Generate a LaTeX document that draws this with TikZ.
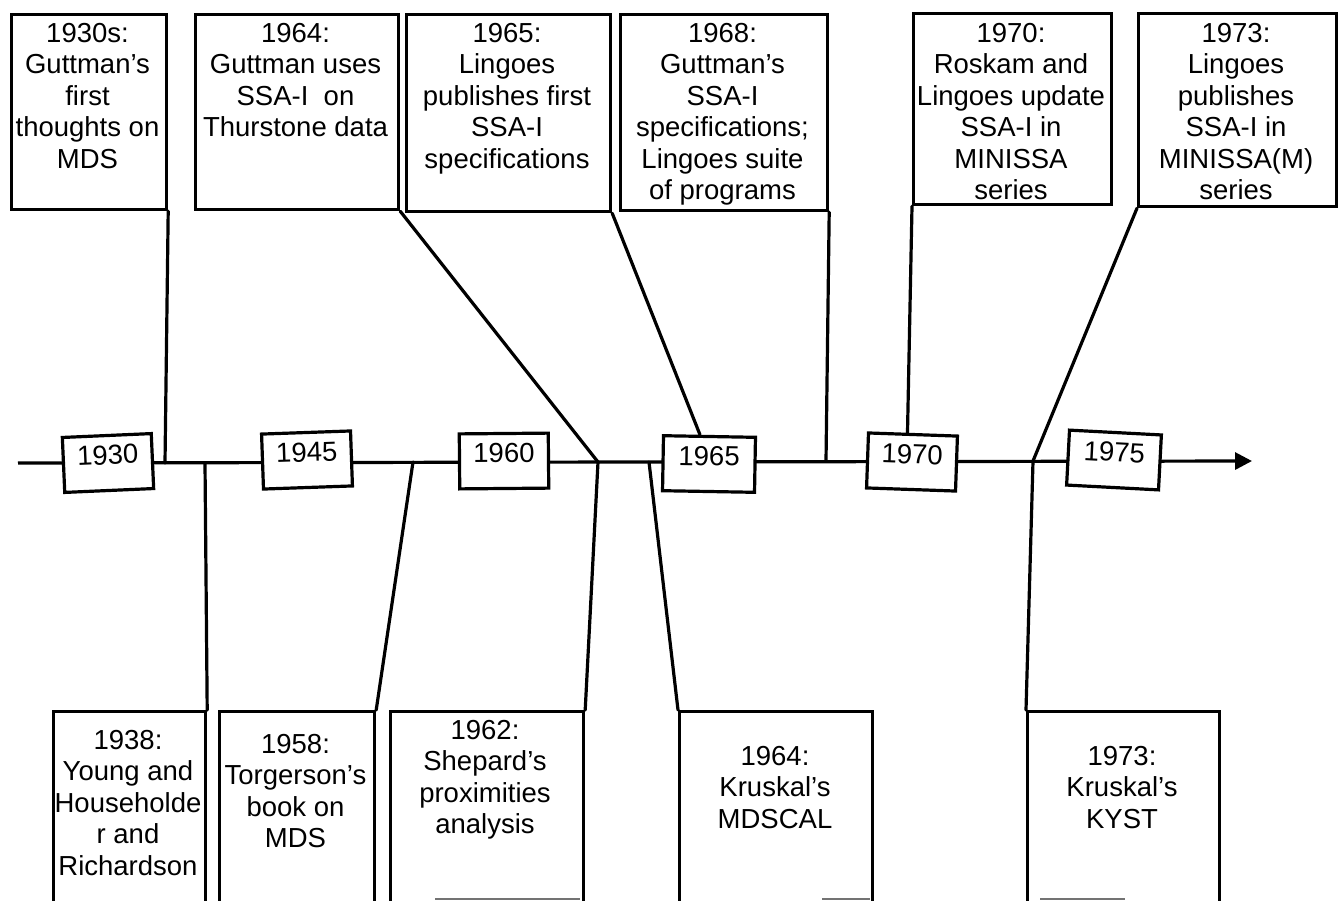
\documentclass[tikz,border=0pt]{standalone}
\usepackage{fontspec}
\setmainfont{Liberation Sans}
\usetikzlibrary{calc,arrows.meta}
\begin{document}
\begin{tikzpicture}[x=1pt,y=-1pt,
  every node/.style={font=\fontsize{27.5}{31.5}\selectfont},
  evbox/.style={draw, line width=3.2pt, inner sep=0pt, anchor=north west},
  evtext/.style={align=center, anchor=north, inner sep=0pt},
  yearbox/.style={draw, fill=white, line width=3.2pt, inner sep=0pt,
    minimum width=89pt, minimum height=55pt, text depth=16pt},
  conn/.style={line width=3.2pt, line cap=round},
  axis/.style={line width=3.2pt, -{Triangle[length=17pt,width=17pt]}},
  cutedge/.style={draw=black!55, line width=1.6pt}
]
\useasboundingbox (0,0) rectangle (1341,900);
\clip (0,0) rectangle (1341,900);

% ---- time axis ----
\coordinate (t0)   at (18,463);
\coordinate (tEnd) at (1252,461);
\coordinate (tA)   at (165,463);
\coordinate (tF)   at (205,463);
\coordinate (tG)   at (413,462);
\coordinate (tBH)  at (598,462);
\coordinate (tI)   at (649,462);
\coordinate (tD)   at (826,461);
\coordinate (tKJ)  at (1033,461);
\draw[axis] (t0) -- (tEnd);

% ---- year markers ----
\node[yearbox, rotate=2.5] (Y30) at (108,463) {1930};
\node[yearbox, rotate=2]   (Y45) at (307,460) {1945};
\node[yearbox, rotate=0.5] (Y60) at (504,461) {1960};
\node[yearbox, rotate=-1, minimum width=92pt] (Y65) at (709,464) {1965};
\node[yearbox, rotate=-2]  (Y70) at (912,462) {1970};
\node[yearbox, rotate=-3, minimum width=92pt] (Y75) at (1114,460) {1975};

% ---- events above the axis ----
\node[evbox, minimum width=155pt, minimum height=195pt] (A) at (10,13) {};
\node[evtext] (At) at (87.5,23) {1930s:\\Guttman’s\\first\\thoughts on\\MDS};

\node[evbox, minimum width=203pt, minimum height=195pt] (B) at (194,13) {};
\node[evtext] (Bt) at (295.5,23) {1964:\\Guttman uses\\SSA-I~~on\\Thurstone data};

\node[evbox, minimum width=204pt, minimum height=197pt] (C) at (405,13) {};
\node[evtext] (Ct) at (507,23) {1965:\\Lingoes\\publishes first\\SSA-I\\specifications};

\node[evbox, minimum width=207pt, minimum height=196pt] (D) at (619,13) {};
\node[evtext] (Dt) at (722.5,23) {1968:\\Guttman’s\\SSA-I\\specifications;\\Lingoes suite\\of programs};

\node[evbox, minimum width=198pt, minimum height=191pt] (E) at (912,12) {};
\node[evtext] (Et) at (1011,23) {1970:\\Roskam and\\Lingoes update\\SSA-I in\\MINISSA\\series};

\node[evbox, minimum width=198pt, minimum height=193pt] (K) at (1137,12) {};
\node[evtext] (Kt) at (1236,23) {1973:\\Lingoes\\publishes\\SSA-I in\\MINISSA(M)\\series};

% ---- events below the axis (boxes run past the lower edge) ----
\node[evbox, minimum width=152pt, minimum height=240pt] (F) at (52,710) {};
\node[evtext] (Ft) at (128,730) {1938:\\Young and\\Householde\\r and\\Richardson};

\node[evbox, minimum width=155pt, minimum height=240pt] (G) at (218,710) {};
\node[evtext] (Gt) at (295.5,734) {1958:\\Torgerson’s\\book on\\MDS};

\node[evbox, minimum width=193pt, minimum height=240pt] (H) at (389,710) {};
\node[evtext] (Ht) at (485,720) {1962:\\Shepard’s\\proximities\\analysis};

\node[evbox, minimum width=193pt, minimum height=240pt] (I) at (678,710) {};
\node[evtext] (It) at (775,746) {1964:\\Kruskal’s\\MDSCAL};

\node[evbox, minimum width=192pt, minimum height=240pt] (J) at (1026,710) {};
\node[evtext] (Jt) at (1122,746) {1973:\\Kruskal’s\\KYST};

% ---- callout lines ----
\coordinate (pC) at ($(Y65.north west)!0.4!(Y65.north east)$);
\coordinate (pE) at ($(Y70.north west)!0.44!(Y70.north east)$);
\draw[conn] (A.south east) -- (tA);
\draw[conn] (B.south east) -- (tBH);
\draw[conn] (C.south east) -- (pC);
\draw[conn] (D.south east) -- (tD);
\draw[conn] (E.south west) -- (pE);
\draw[conn] (K.south west) -- (tKJ);
\draw[conn] (F.north east) -- (tF);
\draw[conn] (G.north east) -- (tG);
\draw[conn] (H.north east) -- (tBH);
\draw[conn] (I.north west) -- (tI);
\draw[conn] (J.north west) -- (tKJ);

% ---- lower edges just showing at the bottom ----
\draw[cutedge] (435,899) -- (580,899);
\draw[cutedge] (822,899) -- (870,899);
\draw[cutedge] (1040,899) -- (1125,899);
\end{tikzpicture}
\end{document}
